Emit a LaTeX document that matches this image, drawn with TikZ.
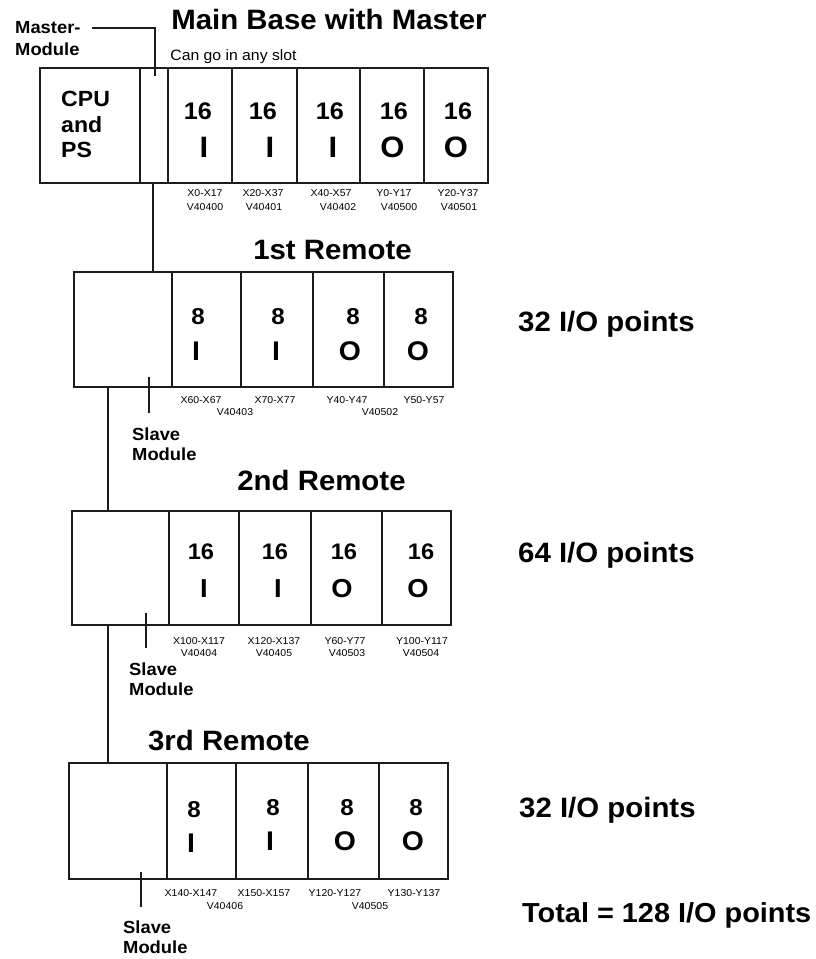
\documentclass[tikz,border=0pt]{standalone}
\usepackage{fontspec}
\setmainfont{Liberation Sans}[FakeStretch=1.05]
\definecolor{ink}{RGB}{28,28,28}
\begin{document}
\begin{tikzpicture}[x=1pt,y=-1pt,
  slot/.style={draw=ink, line width=1.4pt, inner sep=0pt, outer sep=0pt, anchor=north west},
  wire/.style={draw=ink, line width=1.3pt},
  fb/.style={font=\fontsize{#1}{#1}\selectfont\bfseries, inner sep=0pt, anchor=base},
  fr/.style={font=\fontsize{#1}{#1}\selectfont, inner sep=0pt, anchor=base},
  fbw/.style={font=\fontsize{#1}{#1}\selectfont\bfseries, inner sep=0pt, anchor=base west},
]
\useasboundingbox (0,0) rectangle (816,959);

% ---------------- Main base ----------------
\node[fb=28] (ttl0) at (329,29) {Main Base with Master};
\node[fr=15] (any) at (233.5,60) {Can go in any slot};
\node[fbw=17.5] (mst1) at (15,33) {Master-};
\node[fbw=17.5] (mst2) at (15,55) {Module};

\node[slot, minimum width=100pt, minimum height=115pt] (cpu) at (40,68) {};
\node[slot, minimum width=28pt, minimum height=115pt] (ms) at (140,68) {};
\node[slot, minimum width=64pt, minimum height=115pt] (m1) at (168,68) {};
\node[slot, minimum width=65pt, minimum height=115pt] (m2) at (232,68) {};
\node[slot, minimum width=63pt, minimum height=115pt] (m3) at (297,68) {};
\node[slot, minimum width=64pt, minimum height=115pt] (m4) at (360,68) {};
\node[slot, minimum width=64pt, minimum height=115pt] (m5) at (424,68) {};

\coordinate (mlead) at (92,28);
\coordinate (mtip) at (155,76);
\draw[wire] (mlead) -| (mtip);

\node[fbw=22] (cpu1) at (61,106) {CPU};
\node[fbw=22] (cpu2) at (61,132) {and};
\node[fbw=22] (cpu3) at (61,157) {PS};

\node[fb=24] (mn1) at (198,119) {16};
\node[fb=24] (mn2) at (263,119) {16};
\node[fb=24] (mn3) at (330,119) {16};
\node[fb=24] (mn4) at (394,119) {16};
\node[fb=24] (mn5) at (458,119) {16};
\node[fb=29.5] (ml1) at (204,157) {I};
\node[fb=29.5] (ml2) at (270,157) {I};
\node[fb=29.5] (ml3) at (333,157) {I};
\node[fb=29.5] (ml4) at (392.5,157) {O};
\node[fb=29.5] (ml5) at (456,157) {O};

\node[fr=10] (ma1) at (205,196) {X0-X17};
\node[fr=10] (mb1) at (205,210) {V40400};
\node[fr=10] (ma2) at (263,196) {X20-X37};
\node[fr=10] (mb2) at (264,210) {V40401};
\node[fr=10] (ma3) at (331,196) {X40-X57};
\node[fr=10] (mb3) at (338,210) {V40402};
\node[fr=10] (ma4) at (394,196) {Y0-Y17};
\node[fr=10] (mb4) at (399,210) {V40500};
\node[fr=10] (ma5) at (458,196) {Y20-Y37};
\node[fr=10] (mb5) at (459,210) {V40501};

% ---------------- 1st remote ----------------
\node[fb=28] (ttl1) at (332.5,259) {1st Remote};
\node[slot, minimum width=98pt, minimum height=115pt] (s1) at (74,272) {};
\node[slot, minimum width=69pt, minimum height=115pt] (a1) at (172,272) {};
\node[slot, minimum width=72pt, minimum height=115pt] (a2) at (241,272) {};
\node[slot, minimum width=71pt, minimum height=115pt] (a3) at (313,272) {};
\node[slot, minimum width=69pt, minimum height=115pt] (a4) at (384,272) {};

\coordinate (c0a) at (153,183);
\coordinate (c0b) at (153,272);
\draw[wire] (c0a) -- (c0b);

\node[fb=23] (an1) at (198,324) {8};
\node[fb=23] (an2) at (278,324) {8};
\node[fb=23] (an3) at (353,324) {8};
\node[fb=23] (an4) at (421,324) {8};
\node[fb=27] (al1) at (196,360) {I};
\node[fb=27] (al2) at (276,360) {I};
\node[fb=27] (al3) at (350,360) {O};
\node[fb=27] (al4) at (418,360) {O};

\node[fr=10] (aa1) at (201,403) {X60-X67};
\node[fr=10] (ab1) at (235,415) {V40403};
\node[fr=10] (aa2) at (275,403) {X70-X77};
\node[fr=10] (aa3) at (347,403) {Y40-Y47};
\node[fr=10] (ab3) at (380,415) {V40502};
\node[fr=10] (aa4) at (424,403) {Y50-Y57};

\coordinate (sl1a) at (149,377);
\coordinate (sl1b) at (149,413);
\draw[wire] (sl1a) -- (sl1b);
\node[fbw=17.5] (sv1a) at (132,440) {Slave};
\node[fbw=17.5] (sv1b) at (132,460) {Module};

\node[fbw=28] (pt1) at (518,331) {32 I/O points};

% ---------------- 2nd remote ----------------
\coordinate (c1a) at (108,387);
\coordinate (c1b) at (108,511);
\draw[wire] (c1a) -- (c1b);

\node[fb=28] (ttl2) at (321.5,490) {2nd Remote};
\node[slot, minimum width=97pt, minimum height=114pt] (s2) at (72,511) {};
\node[slot, minimum width=70pt, minimum height=114pt] (b1) at (169,511) {};
\node[slot, minimum width=72pt, minimum height=114pt] (b2) at (239,511) {};
\node[slot, minimum width=71pt, minimum height=114pt] (b3) at (311,511) {};
\node[slot, minimum width=69pt, minimum height=114pt] (b4) at (382,511) {};

\node[fb=22.5] (bn1) at (201,559) {16};
\node[fb=22.5] (bn2) at (275,559) {16};
\node[fb=22.5] (bn3) at (344,559) {16};
\node[fb=22.5] (bn4) at (421,559) {16};
\node[fb=26] (bl1) at (204,597) {I};
\node[fb=26] (bl2) at (278,597) {I};
\node[fb=26] (bl3) at (342,597) {O};
\node[fb=26] (bl4) at (418,597) {O};

\node[fr=10] (ba1) at (199,644) {X100-X117};
\node[fr=10] (bb1) at (199,656) {V40404};
\node[fr=10] (ba2) at (274,644) {X120-X137};
\node[fr=10] (bb2) at (274,656) {V40405};
\node[fr=10] (ba3) at (345,644) {Y60-Y77};
\node[fr=10] (bb3) at (347,656) {V40503};
\node[fr=10] (ba4) at (422,644) {Y100-Y117};
\node[fr=10] (bb4) at (421,656) {V40504};

\coordinate (sl2a) at (146,613);
\coordinate (sl2b) at (146,648);
\draw[wire] (sl2a) -- (sl2b);
\node[fbw=17.5] (sv2a) at (129,675) {Slave};
\node[fbw=17.5] (sv2b) at (129,695) {Module};

\node[fbw=28] (pt2) at (518,562) {64 I/O points};

% ---------------- 3rd remote ----------------
\coordinate (c2a) at (108,625);
\coordinate (c2b) at (108,763);
\draw[wire] (c2a) -- (c2b);

\node[fb=28] (ttl3) at (229,750) {3rd Remote};
\node[slot, minimum width=98pt, minimum height=116pt] (s3) at (69,763) {};
\node[slot, minimum width=69pt, minimum height=116pt] (d1) at (167,763) {};
\node[slot, minimum width=72pt, minimum height=116pt] (d2) at (236,763) {};
\node[slot, minimum width=71pt, minimum height=116pt] (d3) at (308,763) {};
\node[slot, minimum width=69pt, minimum height=116pt] (d4) at (379,763) {};

\node[fb=23] (dn1) at (194,817) {8};
\node[fb=23] (dn2) at (273,815) {8};
\node[fb=23] (dn3) at (347,815) {8};
\node[fb=23] (dn4) at (416,815) {8};
\node[fb=27] (dl1) at (191,852) {I};
\node[fb=27] (dl2) at (270,850) {I};
\node[fb=27] (dl3) at (345,850) {O};
\node[fb=27] (dl4) at (413,850) {O};

\node[fr=10] (da1) at (191,896) {X140-X147};
\node[fr=10] (db1) at (225,909) {V40406};
\node[fr=10] (da2) at (264,896) {X150-X157};
\node[fr=10] (da3) at (335,896) {Y120-Y127};
\node[fr=10] (db3) at (370,909) {V40505};
\node[fr=10] (da4) at (414,896) {Y130-Y137};

\coordinate (sl3a) at (141,872);
\coordinate (sl3b) at (141,907);
\draw[wire] (sl3a) -- (sl3b);
\node[fbw=17.5] (sv3a) at (123,933) {Slave};
\node[fbw=17.5] (sv3b) at (123,953) {Module};

\node[fbw=28] (pt3) at (519,817) {32 I/O points};
\node[fbw=27.5] (tot) at (522,922) {Total = 128 I/O points};
\end{tikzpicture}
\end{document}
